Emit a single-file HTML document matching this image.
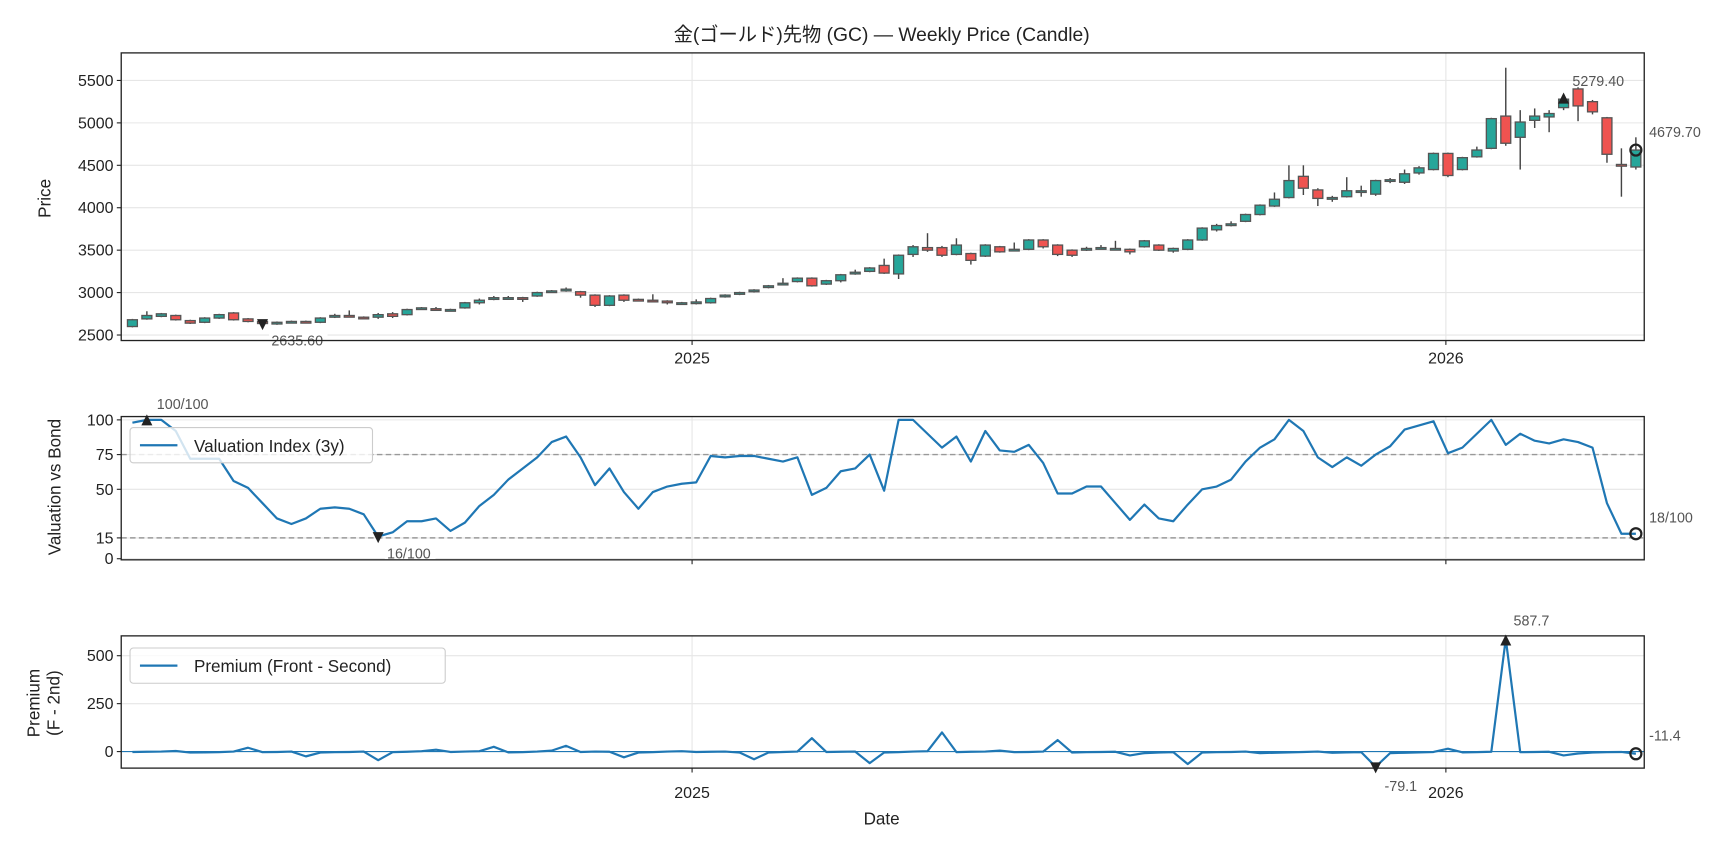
<!DOCTYPE html>
<html><head><meta charset="utf-8">
<style>
html,body{margin:0;padding:0;background:#fff;}
svg{display:block;font-family:"Liberation Sans","Noto Sans CJK JP",sans-serif;}
</style></head>
<body>
<svg id="chart" width="1728" height="849" viewBox="0 0 1568 770.4" preserveAspectRatio="none" xmlns="http://www.w3.org/2000/svg"></svg>
<script>
const startDate = "2024-04-05";
const opens  = [2600,2690,2720,2730,2670,2650,2700,2760,2690,2660,2630,2650,2660,2650,2710,2730,2710,2710,2750,2740,2810,2810,2790,2820,2880,2920,2940,2940,2960,3010,3020,3010,2970,2850,2970,2920,2910,2900,2880,2880,2880,2950,2980,3010,3060,3100,3130,3170,3100,3140,3220,3250,3320,3220,3450,3530,3530,3450,3460,3430,3540,3500,3510,3620,3560,3500,3500,3520,3520,3510,3540,3560,3490,3510,3620,3740,3790,3840,3920,4020,4120,4370,4210,4100,4130,4200,4160,4320,4300,4410,4450,4640,4450,4600,4700,5080,4830,5030,5070,5180,5400,5250,5060,4510,4480];
const closes = [2680,2730,2750,2680,2640,2700,2740,2680,2660,2635.6,2650,2660,2650,2700,2730,2720,2700,2740,2720,2800,2820,2800,2800,2880,2910,2940,2940,2930,3000,3020,3040,2970,2850,2960,2910,2910,2900,2880,2880,2890,2930,2970,3000,3030,3080,3110,3170,3080,3140,3210,3240,3290,3230,3440,3540,3500,3440,3560,3380,3560,3480,3510,3620,3540,3450,3440,3520,3530,3520,3480,3610,3500,3520,3620,3760,3790,3810,3920,4030,4100,4320,4230,4110,4120,4200,4200,4320,4330,4400,4470,4640,4380,4590,4680,5050,4760,5010,5080,5110,5279.4,5200,5130,4630,4490,4679.7];
const highs  = [2690,2780,2760,2740,2680,2710,2750,2770,2700,2670,2660,2670,2670,2710,2750,2790,2720,2760,2770,2810,2830,2830,2810,2890,2930,2960,2960,2950,3010,3030,3060,3020,2980,2970,2980,2930,2980,2910,2890,2920,2940,2980,3010,3040,3090,3170,3180,3180,3150,3220,3270,3300,3400,3450,3560,3700,3550,3640,3470,3570,3550,3590,3630,3630,3570,3510,3540,3560,3610,3520,3620,3570,3530,3630,3770,3810,3840,3930,4040,4180,4500,4500,4230,4140,4360,4260,4330,4350,4450,4490,4650,4650,4600,4720,5060,5650,5150,5170,5150,5290,5420,5270,5070,4700,4830];
const lows   = [2590,2680,2710,2670,2630,2640,2690,2670,2650,2620,2620,2640,2640,2640,2700,2710,2690,2690,2700,2730,2800,2790,2780,2810,2860,2910,2930,2890,2950,3000,3010,2940,2830,2840,2890,2900,2890,2860,2870,2860,2870,2940,2970,3000,3050,3100,3120,3070,3090,3120,3210,3240,3220,3160,3420,3480,3420,3440,3330,3420,3470,3490,3500,3520,3430,3420,3490,3510,3500,3450,3530,3490,3470,3500,3610,3720,3780,3830,3910,4010,4110,4150,4020,4070,4120,4130,4140,4290,4280,4390,4440,4360,4440,4590,4690,4730,4450,4940,4890,5150,5020,5100,4530,4130,4450];
const valuation = [98,100,100,92,72,72,72,56,51,40,29,25,29,36,37,36,32,16,19,27,27,29,20,26,38,46,57,65,73,84,88,73,53,65,48,36,48,52,54,55,74,73,74,74,72,70,73,46,51,63,65,75,49,100,100,90,80,88,70,92,78,77,82,69,47,47,52,52,40,28,39,29,27,39,50,52,57,70,80,86,100,92,73,66,73,67,75,81,93,96,99,76,80,90,100,82,90,85,83,86,84,80,40,18,18];
const premium = [-2,-1,0,3,-5,-4,-3,0,20,-3,-2,0,-25,-5,-3,-2,0,-45,-3,-1,2,10,-2,0,2,25,-4,-3,0,5,30,-2,0,-1,-30,-5,-3,0,2,-2,-1,0,-5,-40,-5,-2,0,70,-2,-1,0,-60,-5,-3,0,2,100,-3,-1,0,5,-3,-2,0,60,-5,-3,-2,-1,-20,-8,-5,-3,-65,-5,-3,-2,0,-8,-6,-4,-2,0,-6,-4,-3,-79.1,-8,-6,-4,-2,15,-4,-3,-1,587.7,-3,-2,-1,-20,-10,-5,-3,-2,-11.4];
const priceTicks = [2500,3000,3500,4000,4500,5000,5500];
const valTicks = [0,15,50,75,100];
const premTicks = [0,250,500];
const yearTicks = ["2025","2026"];

const NS="http://www.w3.org/2000/svg";
const svg=document.getElementById('chart');
function mk(tag,attrs,parent){const e=document.createElementNS(NS,tag);for(const k in attrs)e.setAttribute(k,attrs[k]);(parent||svg).appendChild(e);return e;}
function txt(s,attrs,parent){const e=mk('text',attrs,parent);e.textContent=s;return e;}

const L=110,R=1492;
const t2025=Date.UTC(2025,0,1);
function xDate(ms){return 628+(ms-t2025)/86400000/365*684;}
function xYear(y){return xDate(Date.UTC(+y,0,1));}
const s0=new Date(startDate+"T00:00:00Z").getTime();
function xi(i){return xDate(s0+i*7*86400000);}
const yP=p=>304-(p-2500)*0.077;
const yV=v=>507-v*1.26;
const yQ=v=>682-v*0.174;

const panels=[{t:48,b:309,name:'price'},{t:378,b:508,name:'valuation'},{t:577,b:697,name:'premium'}];

const title=txt("金(ゴールド)先物 (GC) — Weekly Price (Candle)",{x:800,y:37,'text-anchor':'middle','font-size':17.5,fill:'#222'});



function grid(p,yf,ticks,labelFn){
  const g=mk('g',{});
  
  
  ticks.forEach(t=>{
    const y=yf(t);
    mk('line',{x1:L,x2:R,y1:y,y2:y,stroke:'#e6e6e6','stroke-width':1},g);
    mk('line',{x1:L-4,x2:L,y1:y,y2:y,stroke:'#222','stroke-width':1},g);
    const tl=txt(labelFn?labelFn(t):String(t),{x:L-7,y:y+5,'text-anchor':'end','font-size':14.5,fill:'#222'},g);
    
    
  });
  yearTicks.forEach(yr=>{
    const x=xYear(yr);
    mk('line',{x1:x,x2:x,y1:p.t,y2:p.b,stroke:'#e6e6e6','stroke-width':1},g);
    mk('line',{x1:x,x2:x,y1:p.b,y2:p.b+4,stroke:'#222','stroke-width':1},g);
  });
}
grid(panels[0],yP,priceTicks);
grid(panels[1],yV,valTicks);
grid(panels[2],yQ,premTicks);

[[330,'price'],[724,'premium']].forEach(([y,n])=>{
  yearTicks.forEach(yr=>{
    const e=txt(yr,{x:xYear(yr),y:y,'text-anchor':'middle','font-size':14.5,fill:'#222'});
    
    
  });
});

const cg=mk('g',{});


opens.forEach((o,i)=>{
  const c=closes[i],x=xi(i),up=c>=o;
  const g=mk('g',{},cg);
  
  
  mk('line',{x1:x,x2:x,y1:yP(highs[i]),y2:yP(lows[i]),stroke:'#444','stroke-width':1.3},g);
  const top=yP(Math.max(o,c)),bot=yP(Math.min(o,c));
  mk('rect',{x:x-4.5,y:top,width:9,height:Math.max(bot-top,1.5),fill:up?'#26a69a':'#ef5350',stroke:'#555','stroke-width':1.2},g);
});

function argmax(a){let k=0;a.forEach((v,i)=>{if(v>a[k])k=i;});return k;}
function argmin(a){let k=0;a.forEach((v,i)=>{if(v<a[k])k=i;});return k;}
function triUp(x,y,name){const e=mk('path',{d:`M${x-5},${y+4} L${x+5},${y+4} L${x},${y-6} Z`,fill:'#222'});}
function triDown(x,y,name){const e=mk('path',{d:`M${x-5},${y-4} L${x+5},${y-4} L${x},${y+6} Z`,fill:'#222'});}
function circ(x,y,name){const e=mk('circle',{cx:x,cy:y,r:5,fill:'none',stroke:'#222','stroke-width':2});}
function lab(s,x,y,name,bg){
  if(bg){const w=s.length*7+4;mk('rect',{x:x-2,y:y-12,width:w,height:15,fill:'#fff'});}
  const e=txt(s,{x:x,y:y,'font-size':13,fill:'#555'});
  
  
}
let k=argmax(closes);
triUp(xi(k),yP(closes[k]),'price-max-marker');
lab(closes[k].toFixed(2),xi(k)+8,yP(closes[k])-12,'price-max-label');
k=argmin(closes);
triDown(xi(k),yP(closes[k]),'price-min-marker');
lab(closes[k].toFixed(2),xi(k)+8,yP(closes[k])+20,'price-min-label',true);
k=closes.length-1;
circ(xi(k),yP(closes[k]),'price-last-marker');
lab(closes[k].toFixed(2),xi(k)+12,yP(closes[k])-12,'price-last-label');

[75,15].forEach(v=>{const e=mk('line',{x1:L,x2:R,y1:yV(v),y2:yV(v),stroke:'#999','stroke-width':1.3,'stroke-dasharray':'5,3'});});
const vl=mk('polyline',{points:valuation.map((v,i)=>xi(i)+','+yV(v)).join(' '),fill:'none',stroke:'#1f77b4','stroke-width':2,'stroke-linejoin':'round'});


k=argmax(valuation);
triUp(xi(k),yV(valuation[k])+1,'valuation-max-marker');
lab(valuation[k]+'/100',xi(k)+9,yV(valuation[k])-10,'valuation-max-label');
k=argmin(valuation);
triDown(xi(k),yV(valuation[k]),'valuation-min-marker');
lab(valuation[k]+'/100',xi(k)+8,yV(valuation[k])+20,'valuation-min-label',true);
k=valuation.length-1;
circ(xi(k),yV(valuation[k]),'valuation-last-marker');
lab(valuation[k]+'/100',xi(k)+12,yV(valuation[k])-10,'valuation-last-label');

const z=mk('line',{x1:L,x2:R,y1:yQ(0),y2:yQ(0),stroke:'#1f77b4','stroke-width':1});


const pl=mk('polyline',{points:premium.map((v,i)=>xi(i)+','+yQ(v)).join(' '),fill:'none',stroke:'#1f77b4','stroke-width':2,'stroke-linejoin':'round'});


k=argmax(premium);
triUp(xi(k),yQ(premium[k])+2,'premium-max-marker');
lab(premium[k].toFixed(1),xi(k)+7,yQ(premium[k])-12,'premium-max-label');
k=argmin(premium);
triDown(xi(k),yQ(premium[k]),'premium-min-marker');
lab(premium[k].toFixed(1),xi(k)+8,yQ(premium[k])+22,'premium-min-label');
k=premium.length-1;
circ(xi(k),yQ(premium[k]),'premium-last-marker');
lab(premium[k].toFixed(1),xi(k)+12,yQ(premium[k])-12,'premium-last-label');

panels.forEach(p=>{const e=mk('rect',{x:L,y:p.t,width:R-L,height:p.b-p.t,fill:'none',stroke:'#222','stroke-width':1.2});});

function legend(x,y,w,label,name){
  const g=mk('g',{});
  
  
  mk('rect',{x:x,y:y,width:w,height:32,rx:3,fill:'#fff','fill-opacity':0.8,stroke:'#ccc'},g);
  mk('line',{x1:x+9,x2:x+43,y1:y+16,y2:y+16,stroke:'#1f77b4','stroke-width':2},g);
  txt(label,{x:x+58,y:y+22,'font-size':15.5,fill:'#222'},g);
}
legend(118,388,220,'Valuation Index (3y)','valuation-legend');
legend(118,588,286,'Premium (Front - Second)','premium-legend');

function ylab(lines,x,y,name){
  const e=txt('',{transform:`translate(${x},${y}) rotate(-90)`,'text-anchor':'middle','font-size':15.5,fill:'#222'});
  lines.forEach((s,i)=>{const t=mk('tspan',{x:0,dy:i?18:0},e);t.textContent=s;});
  
  
}
ylab(['Price'],46,180,'price-y-axis-title');
ylab(['Valuation vs Bond'],55,442,'valuation-y-axis-title');
ylab(['Premium','(F - 2nd)'],36,638,'premium-y-axis-title');
const dx=txt('Date',{x:800,y:748,'text-anchor':'middle','font-size':15.5,fill:'#222'});


</script>
</body></html>
